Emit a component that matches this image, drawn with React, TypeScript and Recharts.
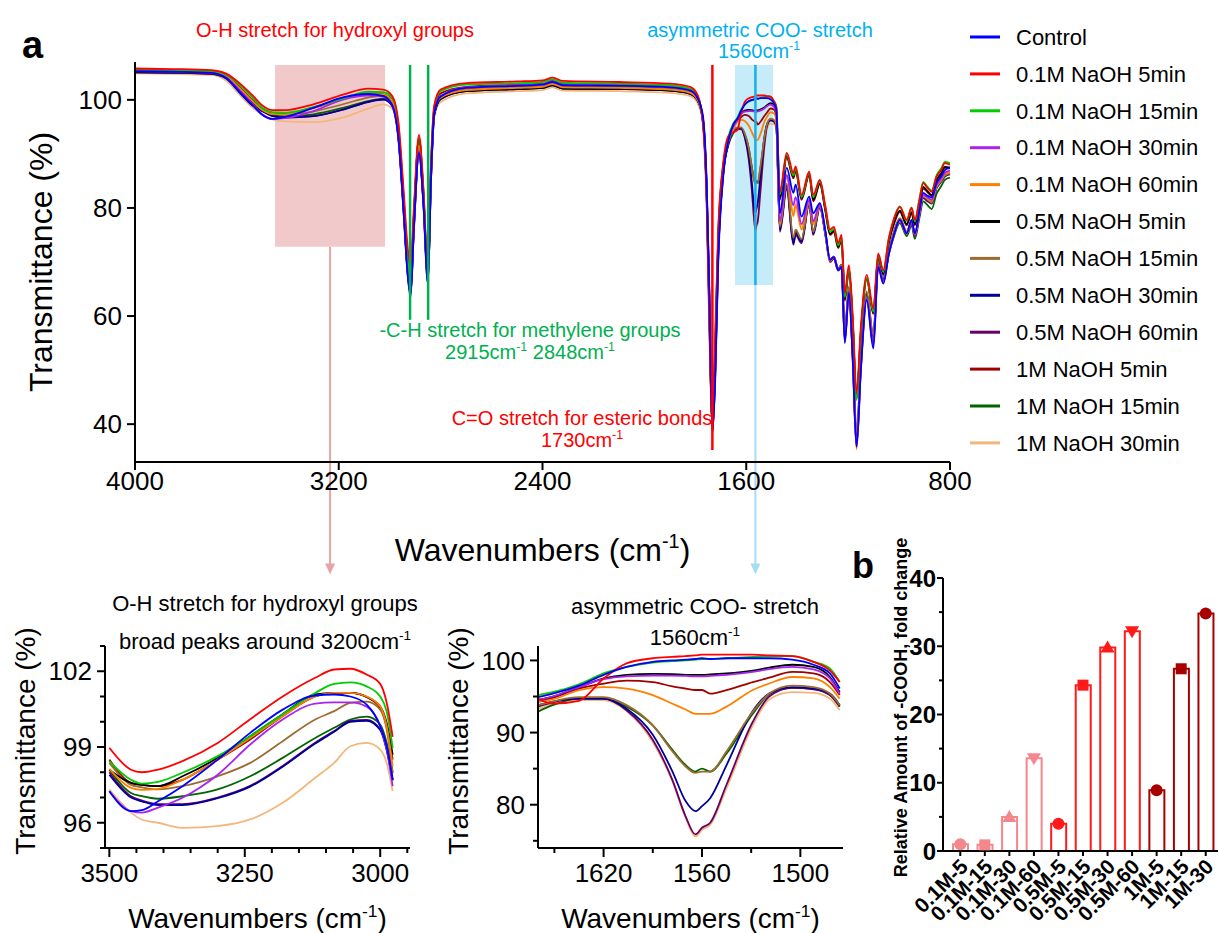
import React from "react";
import {
  LineChart,
  Line,
  XAxis,
  YAxis,
  ReferenceArea,
  ReferenceLine,
  ComposedChart,
  Bar,
  Scatter,
  Cell,
} from "recharts";

const FONT = "'Liberation Sans', Arial, Helvetica, sans-serif";

// ---------- panel a: full FTIR spectrum ----------
const WAVENUMBERS = [
  4000, 3850, 3700, 3640, 3590, 3540, 3500, 3460, 3410, 3300,
  3180, 3085, 3025, 2990, 2965, 2945, 2930, 2918, 2905, 2885,
  2868, 2850, 2838, 2825, 2800, 2700, 2500, 2400, 2360, 2320,
  2100, 1900, 1820, 1790, 1770, 1755, 1745, 1733, 1722, 1710,
  1690, 1670, 1651, 1635, 1620, 1606, 1590, 1578, 1570, 1564,
  1560, 1555, 1545, 1529, 1519, 1505, 1492, 1482, 1468, 1441,
  1415, 1406, 1383, 1353, 1337, 1311, 1290, 1271, 1256, 1239,
  1226, 1213, 1197, 1182, 1167, 1150, 1127, 1101, 1082, 1062,
  1040, 1020, 997, 970, 951, 938, 920, 905, 890, 872,
  853, 835, 820, 800,
];

const CONTROL = [
  105.3, 105.2, 105.0, 104.0, 101.5, 99.1, 97.25, 96.46, 96.85, 98.5,
  100.48, 101.08, 100.68, 99.0, 92.5, 79, 68, 63.5, 76, 90.2,
  81, 66, 85, 97.5, 100.6, 102.2, 102.6, 102.8, 103.3, 102.7,
  102.6, 102.3, 101.7, 100.2, 97, 84, 65, 38.5, 48, 70,
  86, 92.5, 95.4, 96.5, 98.0, 99.1, 99.8, 100.0, 100.1, 100.2,
  100.3, 100.2, 100.3, 100.3, 100.3, 100.1, 99.4, 98.2, 79.0, 87.4,
  82.8, 84.3, 78.4, 82.1, 79.0, 80.9, 76.0, 70.4, 70.9, 68.5,
  69.1, 55.0, 64.3, 52, 35.8, 50, 63.0, 54.0, 69.1, 66.0,
  71.5, 75.0, 77.8, 75.3, 77.8, 75.3, 79.5, 82.8, 82.3, 81.9,
  84.6, 85.8, 87.0, 87.4,
];
const NAOH01_5 = [
  105.8, 105.7, 105.5, 104.8, 103.1, 100.9, 98.97, 98.1, 98.1, 99.16,
  101.0, 102.07, 101.87, 100.7, 95.5, 83, 73, 69, 80, 93.5,
  84, 68.5, 88, 99, 101.9, 103.1, 103.4, 103.6, 104.1, 103.5,
  103.3, 103.0, 102.4, 100.8, 95.5, 80, 58, 39.5, 56, 76,
  88.5, 93.3, 94.0, 94.4, 97.5, 99.6, 100.3, 100.5, 100.6, 100.7,
  100.8, 100.8, 100.8, 100.8, 100.7, 100.6, 99.8, 98.6, 83.0, 90.2,
  86.5, 87.7, 82.4, 86.7, 82.4, 85.2, 80.5, 76.0, 76.5, 73.5,
  75.0, 64.3, 69.4, 60, 45.7, 58, 67.6, 61.4, 71.6, 68.5,
  74.5, 78.0, 80.2, 77.8, 80.0, 77.8, 81.5, 84.6, 83.8, 83.0,
  85.8, 87.0, 88.3, 88.0,
];
const NAOH01_15 = [
  105.6, 105.5, 105.3, 104.6, 102.8, 100.5, 98.44, 97.7, 97.62, 98.64,
  100.3, 101.5, 101.4, 100.4, 95.0, 82, 71.5, 67, 79, 93.0,
  83.5, 67.5, 87.5, 98.7, 101.6, 102.8, 103.1, 103.3, 103.8, 103.2,
  103.0, 102.7, 102.1, 100.6, 95.8, 81, 60, 39, 54, 75,
  88, 93.2, 95.6, 96.7, 98.2, 99.1, 99.7, 99.9, 100.0, 100.1,
  100.2, 100.2, 100.3, 100.5, 100.6, 100.6, 99.8, 98.9, 82.5, 89.8,
  86.0, 87.3, 82.0, 86.4, 82.0, 85.0, 80.2, 75.6, 76.1, 73.1,
  74.6, 63.5, 68.8, 59, 44.5, 57, 67.0, 60.8, 71.2, 68.2,
  74.3, 78.0, 80.3, 77.6, 80.1, 77.5, 81.6, 84.8, 84.0, 83.2,
  86.0, 87.3, 88.5, 88.3,
];
const NAOH01_30 = [
  105.3, 105.2, 105.0, 104.1, 101.8, 99.3, 97.25, 96.46, 96.6, 97.9,
  100.09, 100.77, 100.6, 98.9, 92.8, 79.5, 68.5, 64, 76.5, 90.5,
  81.5, 66.5, 85.5, 97.6, 100.7, 102.3, 102.7, 102.9, 103.4, 102.8,
  102.7, 102.4, 101.8, 100.3, 96.5, 83, 63, 38.8, 50, 72,
  87, 92.8, 95.0, 96.3, 97.4, 97.8, 97.9, 97.9, 97.85, 97.8,
  97.8, 97.85, 98.0, 98.4, 98.8, 99.1, 98.75, 97.5, 77.5, 86.0,
  80.5, 82.0, 77.0, 81.5, 77.5, 80.6, 75.8, 70.4, 70.9, 68.6,
  69.2, 55.5, 64.5, 52.5, 36.0, 50.5, 63.4, 54.8, 69.4, 66.4,
  71.7, 75.2, 77.8, 75.4, 77.6, 75.1, 79.2, 82.4, 82.0, 81.5,
  84.2, 85.4, 86.5, 86.9,
];
const NAOH01_60 = [
  105.4, 105.3, 105.1, 104.3, 102.2, 99.8, 98.13, 97.38, 97.34, 98.5,
  100.22, 101.14, 101.0, 99.8, 93.5, 80.5, 70, 65.5, 77.5, 91.5,
  82.5, 67, 86, 97.8, 100.4, 101.8, 102.2, 102.4, 102.9, 102.3,
  102.2, 101.9, 101.3, 99.9, 96.2, 82, 62, 38.8, 51, 73,
  87, 92.6, 94.6, 95.9, 96.3, 96.1, 95.2, 94.0, 93.2, 92.6,
  92.6, 92.6, 93.6, 95.9, 96.8, 97.7, 97.5, 96.3, 77.0, 86.0,
  78.5, 80.5, 76.0, 81.2, 77.0, 80.5, 75.6, 70.2, 70.8, 68.5,
  69.1, 55.2, 64.3, 52, 35.5, 50, 63.2, 54.5, 69.2, 66.2,
  71.5, 75.0, 77.6, 75.2, 77.5, 75.0, 79.0, 82.2, 81.8, 81.3,
  84.0, 85.2, 86.3, 86.6,
];
const NAOH05_5 = [
  105.2, 105.1, 104.9, 104.1, 101.9, 99.6, 98.1, 97.58, 97.45, 98.57,
  100.3, 101.14, 100.98, 99.95, 93.8, 81, 70.5, 66, 78.5, 92.8,
  83, 67.5, 86.5, 97.5, 100.2, 101.6, 102.0, 102.2, 102.7, 102.1,
  102.0, 101.7, 101.1, 99.8, 96, 82, 61, 39.2, 52, 74,
  87.5, 92.8, 95.0, 96.3, 97.5, 98.0, 98.15, 98.1, 98.0, 98.0,
  98.0, 98.05, 98.2, 98.6, 99.0, 99.4, 99.1, 97.7, 82.0, 89.6,
  85.8, 87.0, 81.8, 86.2, 81.5, 84.6, 79.8, 75.2, 75.8, 72.8,
  74.3, 63.2, 68.7, 59, 45.0, 57, 67.0, 60.6, 71.0, 67.8,
  73.8, 77.3, 79.5, 77.0, 79.2, 77.0, 80.8, 83.9, 83.2, 82.4,
  85.2, 86.4, 87.6, 87.5,
];
const NAOH05_15 = [
  105.2, 105.1, 104.9, 104.1, 101.8, 99.4, 98.37, 97.5, 97.32, 97.84,
  99.23, 100.42, 100.8, 99.69, 93.5, 80.5, 70, 65.5, 77.5, 91.5,
  82.5, 67, 86, 97.6, 100.5, 101.9, 102.3, 102.5, 103.0, 102.4,
  102.3, 102.0, 101.4, 100.0, 96.2, 82, 62, 39, 51, 73,
  87, 92.3, 94.3, 94.9, 94.9, 93.8, 91.0, 87.4, 85.3, 84.4,
  84.6, 84.6, 87.4, 92.9, 95.4, 96.5, 96.3, 95.4, 76.5, 84.5,
  74.5, 76.0, 74.2, 81.0, 75.6, 80.4, 75.5, 70.5, 71.0, 68.8,
  69.5, 57.0, 65.5, 54, 38.5, 52, 64.5, 56.5, 70.2, 67.2,
  72.2, 75.6, 78.1, 75.6, 77.6, 75.1, 79.1, 82.1, 81.6, 81.0,
  83.8, 85.0, 86.0, 86.4,
];
const NAOH05_30 = [
  105.1, 105.0, 104.8, 103.9, 101.4, 99.0, 97.9, 97.0, 96.7, 96.97,
  98.22, 99.6, 100.04, 98.88, 92.8, 79.5, 68.5, 64.5, 76.5, 90.5,
  81.5, 66.5, 85, 97.2, 100.1, 101.6, 102.0, 102.2, 102.7, 102.1,
  102.0, 101.7, 101.1, 99.8, 96.5, 83, 64, 38.6, 49, 71,
  86.5, 92.0, 94.3, 94.7, 94.7, 93.3, 89.7, 84.6, 80.5, 79.1,
  79.8, 80.9, 85.5, 93.0, 95.4, 96.3, 96.1, 95.4, 76.0, 84.0,
  73.5, 75.4, 73.8, 80.9, 75.3, 80.4, 75.5, 70.4, 71.0, 68.8,
  69.5, 56.5, 65.0, 53, 37.0, 51, 64.0, 56.0, 70.0, 67.0,
  72.0, 75.5, 78.0, 75.5, 77.5, 75.0, 79.0, 82.0, 81.5, 81.0,
  83.8, 85.0, 86.0, 86.4,
];
const NAOH05_60 = [
  105.1, 105.0, 104.8, 103.9, 101.5, 99.1, 98.0, 97.05, 96.74, 97.0,
  98.25, 99.63, 100.07, 98.92, 92.6, 79, 68, 64, 76, 90.3,
  81.2, 66.2, 85, 97.2, 100.2, 101.7, 102.1, 102.3, 102.8, 102.2,
  102.1, 101.8, 101.2, 99.9, 96.5, 83, 64, 38.4, 49, 71,
  86.5, 91.8, 94.2, 94.7, 94.7, 93.1, 89.0, 83.4, 78.4, 75.9,
  76.8, 77.5, 82.8, 91.5, 95.0, 96.2, 96.0, 95.2, 75.6, 83.5,
  73.2, 75.0, 73.5, 80.6, 75.0, 80.0, 75.2, 70.0, 70.6, 68.4,
  69.0, 55.5, 64.5, 52.5, 36.2, 50.5, 63.5, 55.2, 69.6, 66.6,
  71.7, 75.2, 77.7, 75.2, 77.3, 74.8, 78.8, 81.8, 81.3, 80.8,
  83.6, 84.8, 85.8, 86.2,
];
const NAOH1_5 = [
  105.5, 105.4, 105.2, 104.4, 102.4, 100.0, 98.5, 97.58, 97.45, 98.5,
  100.22, 101.14, 100.98, 99.82, 94.0, 81.5, 71, 66.5, 78.5, 92.8,
  83, 67.5, 87, 98.3, 101.2, 102.4, 102.8, 103.0, 103.5, 102.9,
  102.8, 102.5, 101.9, 100.5, 96, 81.5, 60, 39.3, 54, 75,
  88, 92.8, 94.8, 96.1, 96.8, 97.2, 97.0, 96.4, 96.1, 95.9,
  95.9, 95.4, 95.9, 97.0, 97.6, 98.4, 98.2, 97.0, 81.5, 89.3,
  85.5, 86.8, 81.5, 86.0, 81.2, 84.4, 79.6, 75.0, 75.6, 72.6,
  74.0, 62.8, 68.4, 58.5, 44.5, 56.5, 66.8, 60.4, 70.8, 67.6,
  73.6, 77.0, 79.3, 76.8, 79.0, 76.8, 80.6, 83.6, 83.0, 82.2,
  85.0, 86.2, 87.4, 87.3,
];
const NAOH1_15 = [
  105.3, 105.2, 105.0, 104.2, 102.0, 99.7, 98.1, 97.18, 96.95, 97.32,
  98.57, 99.76, 100.2, 99.16, 93.2, 80, 69.5, 65, 77, 91.2,
  82, 67, 86, 97.8, 100.6, 101.9, 102.3, 102.5, 103.0, 102.4,
  102.3, 102.0, 101.4, 100.0, 96.0, 82, 62, 38.9, 51, 73,
  87, 91.8, 93.8, 94.7, 94.7, 93.6, 91.0, 87.6, 85.5, 84.6,
  85.0, 84.6, 87.1, 92.6, 95.3, 96.2, 96.1, 95.2, 76.2, 84.2,
  74.0, 75.8, 74.0, 81.0, 75.5, 80.3, 75.3, 70.3, 70.8, 68.5,
  69.2, 56.8, 65.2, 53.5, 38.0, 51.5, 64.2, 56.2, 69.8, 66.6,
  71.5, 74.8, 77.2, 74.8, 76.8, 74.3, 78.2, 81.2, 80.6, 79.8,
  82.6, 84.0, 85.2, 85.6,
];
const NAOH1_30 = [
  104.9, 104.8, 104.6, 103.5, 101.0, 98.6, 97.32, 96.4, 96.0, 95.87,
  96.79, 98.37, 99.16, 98.37, 92.0, 79, 68.5, 64.5, 76, 90.5,
  81.5, 66.5, 85, 96.8, 99.6, 101.2, 101.6, 101.8, 102.3, 101.7,
  101.6, 101.3, 100.7, 99.3, 95.8, 82.5, 63, 38.7, 50, 72,
  86.5, 91.5, 93.9, 94.5, 94.5, 93.0, 88.7, 83.2, 78.2, 75.6,
  76.5, 77.2, 82.3, 91.0, 94.6, 95.6, 95.5, 94.7, 77.5, 86.2,
  79.0, 80.8, 76.5, 81.6, 77.5, 80.5, 75.6, 70.4, 71.0, 68.6,
  69.2, 55.6, 64.6, 52, 35.3, 50, 63.2, 54.4, 69.2, 66.2,
  71.4, 74.8, 77.4, 75.0, 77.2, 74.8, 78.8, 82.0, 81.6, 81.1,
  83.8, 85.0, 86.0, 86.3,
];

// ---------- zoom 1: O-H stretch ----------
const OH_WAVENUMBERS = [3500, 3460, 3440, 3410, 3365, 3300, 3240, 3180, 3120, 3085, 3055, 3025, 3000, 2988, 2977];
const OH_CONTROL = [97.25, 96.46, 96.5, 96.85, 97.45, 98.5, 99.56, 100.48, 101.04, 101.08, 101.0, 100.68, 99.82, 99.03, 97.7];
const OH_01_5 = [98.97, 98.1, 98.0, 98.1, 98.44, 99.16, 100.1, 101.0, 101.74, 102.07, 102.1, 101.87, 101.5, 100.75, 99.4];
const OH_01_15 = [98.44, 97.7, 97.55, 97.62, 97.98, 98.64, 99.43, 100.3, 101.14, 101.5, 101.56, 101.4, 101.0, 100.4, 98.97];
const OH_01_30 = [97.25, 96.46, 96.4, 96.6, 96.99, 97.9, 99.1, 100.09, 100.72, 100.77, 100.77, 100.6, 99.82, 98.9, 97.45];
const OH_01_60 = [98.13, 97.38, 97.3, 97.34, 97.7, 98.5, 99.36, 100.22, 101.0, 101.14, 101.14, 101.0, 100.6, 99.82, 98.24];
const OH_05_5 = [98.1, 97.58, 97.5, 97.45, 97.84, 98.57, 99.43, 100.3, 101.08, 101.14, 101.14, 100.98, 100.6, 99.95, 98.7];
const OH_05_15 = [98.37, 97.5, 97.4, 97.32, 97.45, 97.84, 98.37, 99.23, 100.09, 100.42, 100.75, 100.8, 100.48, 99.69, 97.98];
const OH_05_30 = [97.9, 97.0, 96.85, 96.7, 96.7, 96.97, 97.43, 98.22, 99.14, 99.6, 100.0, 100.04, 99.67, 98.88, 97.68];
const OH_05_60 = [98.0, 97.05, 96.88, 96.74, 96.74, 97.0, 97.46, 98.25, 99.17, 99.63, 100.03, 100.07, 99.7, 98.92, 97.72];
const OH_1_5 = [98.5, 97.58, 97.5, 97.45, 97.7, 98.5, 99.3, 100.22, 101.0, 101.14, 101.14, 100.98, 100.55, 99.82, 98.5];
const OH_1_15 = [98.1, 97.18, 97.05, 96.95, 97.05, 97.32, 97.84, 98.57, 99.36, 99.76, 100.09, 100.2, 99.89, 99.16, 97.98];
const OH_1_30 = [97.32, 96.4, 96.13, 96.0, 95.8, 95.87, 96.13, 96.79, 97.78, 98.37, 99.03, 99.16, 98.9, 98.37, 97.25];

// ---------- zoom 2: asymmetric COO- stretch ----------
const COO_WAVENUMBERS = [1660, 1651, 1635, 1620, 1606, 1590, 1578, 1570, 1564, 1560, 1555, 1545, 1529, 1519, 1505, 1492, 1482, 1476];
const COO_CONTROL = [94.9, 95.4, 96.5, 98.0, 99.1, 99.8, 100.0, 100.1, 100.2, 100.3, 100.2, 100.3, 100.3, 100.3, 100.1, 99.4, 98.2, 96.1];
const COO_01_5 = [94.7, 94.0, 94.4, 97.5, 99.6, 100.3, 100.5, 100.6, 100.7, 100.8, 100.8, 100.8, 100.8, 100.7, 100.6, 99.8, 98.6, 97.0];
const COO_01_15 = [95.2, 95.6, 96.7, 98.2, 99.1, 99.7, 99.9, 100.0, 100.1, 100.2, 100.2, 100.3, 100.5, 100.6, 100.6, 99.8, 98.9, 97.0];
const COO_01_30 = [94.5, 95.0, 96.3, 97.4, 97.8, 97.9, 97.9, 97.85, 97.8, 97.8, 97.85, 98.0, 98.4, 98.8, 99.1, 98.75, 97.5, 95.4];
const COO_01_60 = [94.25, 94.6, 95.9, 96.3, 96.1, 95.2, 94.0, 93.2, 92.6, 92.6, 92.6, 93.6, 95.9, 96.8, 97.7, 97.5, 96.3, 94.7];
const COO_05_5 = [94.5, 95.0, 96.3, 97.5, 98.0, 98.15, 98.1, 98.0, 98.0, 98.0, 98.05, 98.2, 98.6, 99.0, 99.4, 99.1, 97.7, 95.6];
const COO_05_15 = [93.8, 94.3, 94.9, 94.9, 93.8, 91.0, 87.4, 85.3, 84.4, 84.6, 84.6, 87.4, 92.9, 95.4, 96.5, 96.3, 95.4, 93.8];
const COO_05_30 = [93.8, 94.3, 94.7, 94.7, 93.3, 89.7, 84.6, 80.5, 79.1, 79.8, 80.9, 85.5, 93.0, 95.4, 96.3, 96.1, 95.4, 93.8];
const COO_05_60 = [93.6, 94.2, 94.7, 94.7, 93.1, 89.0, 83.4, 78.4, 75.9, 76.8, 77.5, 82.8, 91.5, 95.0, 96.2, 96.0, 95.2, 93.6];
const COO_1_5 = [94.25, 94.8, 96.1, 96.8, 97.2, 97.0, 96.4, 96.1, 95.9, 95.9, 95.4, 95.9, 97.0, 97.6, 98.4, 98.2, 97.0, 95.2];
const COO_1_15 = [92.9, 93.8, 94.7, 94.7, 93.6, 91.0, 87.6, 85.5, 84.6, 85.0, 84.6, 87.1, 92.6, 95.3, 96.2, 96.1, 95.2, 93.6];
const COO_1_30 = [93.3, 93.9, 94.5, 94.5, 93.0, 88.7, 83.2, 78.2, 75.6, 76.5, 77.2, 82.3, 91.0, 94.6, 95.6, 95.5, 94.7, 93.1];

// ---------- panel b ----------
const BAR_LABELS = ["0.1M-5", "0.1M-15", "0.1M-30", "0.1M-60", "0.5M-5", "0.5M-15", "0.5M-30", "0.5M-60", "1M-5", "1M-15", "1M-30"];
const BAR_VALUES = [1.0, 0.9, 5.0, 13.6, 4.0, 24.3, 29.8, 32.2, 8.9, 26.7, 34.8];
const BAR_COLORS = ["#f4878b", "#f4878b", "#f4878b", "#f4878b", "#ff1a1a", "#ff1a1a", "#ff1a1a", "#ff1a1a", "#a60000", "#a60000", "#a60000"];
const BAR_MARKERS = ["circle", "square", "up", "down", "circle", "square", "up", "down", "circle", "square", "circle"];

const SERIES = [
  { key: "control", name: "Control", color: "#0000ff", main: CONTROL, oh: OH_CONTROL, coo: COO_CONTROL },
  { key: "n01_5", name: "0.1M NaOH 5min", color: "#ff0000", main: NAOH01_5, oh: OH_01_5, coo: COO_01_5 },
  { key: "n01_15", name: "0.1M NaOH 15min", color: "#00cc00", main: NAOH01_15, oh: OH_01_15, coo: COO_01_15 },
  { key: "n01_30", name: "0.1M NaOH 30min", color: "#aa22ee", main: NAOH01_30, oh: OH_01_30, coo: COO_01_30 },
  { key: "n01_60", name: "0.1M NaOH 60min", color: "#ff8000", main: NAOH01_60, oh: OH_01_60, coo: COO_01_60 },
  { key: "n05_5", name: "0.5M NaOH 5min", color: "#000000", main: NAOH05_5, oh: OH_05_5, coo: COO_05_5 },
  { key: "n05_15", name: "0.5M NaOH 15min", color: "#9c6b30", main: NAOH05_15, oh: OH_05_15, coo: COO_05_15 },
  { key: "n05_30", name: "0.5M NaOH 30min", color: "#000099", main: NAOH05_30, oh: OH_05_30, coo: COO_05_30 },
  { key: "n05_60", name: "0.5M NaOH 60min", color: "#660066", main: NAOH05_60, oh: OH_05_60, coo: COO_05_60 },
  { key: "n1_5", name: "1M NaOH 5min", color: "#a00000", main: NAOH1_5, oh: OH_1_5, coo: COO_1_5 },
  { key: "n1_15", name: "1M NaOH 15min", color: "#006400", main: NAOH1_15, oh: OH_1_15, coo: COO_1_15 },
  { key: "n1_30", name: "1M NaOH 30min", color: "#f2b77a", main: NAOH1_30, oh: OH_1_30, coo: COO_1_30 },
];

const buildRows = (xs: number[], pick: (s: any) => number[]) =>
  xs.map((w, i) => {
    const row: Record<string, number> = { w };
    SERIES.forEach((s) => {
      row[s.key] = pick(s)[i];
    });
    return row;
  });

const mainData = buildRows(WAVENUMBERS, (s) => s.main);
const ohData = buildRows(OH_WAVENUMBERS, (s) => s.oh);
const cooData = buildRows(COO_WAVENUMBERS, (s) => s.coo);
const barData = BAR_LABELS.map((name, i) => ({
  name,
  value: BAR_VALUES[i],
  color: BAR_COLORS[i],
  marker: BAR_MARKERS[i],
}));

// draw control last so it sits on top
const drawOrder = [...SERIES].reverse();

// text with superscript pieces: ["normal", "sup", "normal", ...]
const supText = (parts: string[], fs: number) =>
  parts.map((p, i) =>
    i % 2 === 0 ? (
      <tspan key={i} dy={i === 0 ? 0 : fs * 0.4} fontSize={fs} style={{ whiteSpace: "pre" }}>
        {p}
      </tspan>
    ) : (
      <tspan key={i} dy={-fs * 0.4} fontSize={fs * 0.62}>
        {p}
      </tspan>
    )
  );

const axisTitleX = (dy: number, fs: number) => (p: any) => {
  const vb = p.viewBox;
  return (
    <text x={vb.x + vb.width / 2} y={vb.y + dy} textAnchor="middle" fontFamily={FONT} fill="#000">
      {supText(["Wavenumbers (cm", "-1", ")"], fs)}
    </text>
  );
};

const axisTitleY = (text: string, dx: number, dyc: number, fs: number, bold = false) => (p: any) => {
  const vb = p.viewBox;
  const x = vb.x + dx;
  const y = vb.y + vb.height / 2 + dyc;
  return (
    <text
      x={x}
      y={y}
      transform={`rotate(-90, ${x}, ${y})`}
      textAnchor="middle"
      fontSize={fs}
      fontWeight={bold ? "bold" : "normal"}
      fontFamily={FONT}
      fill="#000"
    >
      {text}
    </text>
  );
};

const MinorXTick = (props: any) => {
  const { x, y, payload, labeled } = props;
  const major = labeled.includes(payload.value);
  return (
    <g>
      <line x1={x} y1={y} x2={x} y2={y + (major ? 9 : 5)} stroke="#000" strokeWidth={2} />
      {major && (
        <text x={x} y={y + 16} dy="0.71em" textAnchor="middle" fontSize={26} fontFamily={FONT} fill="#000">
          {payload.value}
        </text>
      )}
    </g>
  );
};

const MinorYTick = (props: any) => {
  const { x, y, payload, labeled, fs = 26, gap = 13, bold = false, major = 8, minor = 5 } = props;
  const isMajor = labeled.includes(payload.value);
  return (
    <g>
      <line x1={x} y1={y} x2={x - (isMajor ? major : minor)} y2={y} stroke="#000" strokeWidth={2} />
      {isMajor && (
        <text
          x={x - gap}
          y={y}
          dy="0.355em"
          textAnchor="end"
          fontSize={fs}
          fontWeight={bold ? "bold" : "normal"}
          fontFamily={FONT}
          fill="#000"
        >
          {payload.value}
        </text>
      )}
    </g>
  );
};

const BarXTick = (props: any) => {
  const { x, y, payload } = props;
  const tx = x + 9;
  const ty = y + 17;
  return (
    <g>
      <line x1={x} y1={y} x2={x} y2={y + 5} stroke="#000" strokeWidth={2} />
      <text
        x={tx}
        y={ty}
        transform={`rotate(-45, ${tx}, ${ty})`}
        textAnchor="end"
        fontSize={21}
        fontWeight="bold"
        fontFamily={FONT}
        fill="#000"
      >
        {payload.value}
      </text>
    </g>
  );
};

const renderMarker = (props: any) => {
  const { cx, cy, payload } = props;
  const c = payload.color;
  if (payload.marker === "square") return <rect x={cx - 5.5} y={cy - 5.5} width={11} height={11} fill={c} />;
  if (payload.marker === "up")
    return <polygon points={`${cx},${cy - 7} ${cx - 7},${cy + 5} ${cx + 7},${cy + 5}`} fill={c} />;
  if (payload.marker === "down")
    return <polygon points={`${cx},${cy + 7} ${cx - 7},${cy - 5} ${cx + 7},${cy - 5}`} fill={c} />;
  return <circle cx={cx} cy={cy} r={6} fill={c} />;
};

const arrowShape = (color: string) => (p: any) => {
  const { x1, y1, x2, y2 } = p;
  return (
    <g>
      <line x1={x1} y1={y1} x2={x2} y2={y2 - 8} stroke={color} strokeWidth={2} />
      <polygon points={`${x2 - 5},${y2 - 11} ${x2 + 5},${y2 - 11} ${x2},${y2}`} fill={color} />
    </g>
  );
};

const axisStyle = { stroke: "#000", strokeWidth: 2 };
const tickFont = { fontSize: 26, fill: "#000", fontFamily: FONT };

export default function App() {
  return (
    <div style={{ position: "absolute", left: 0, top: 0, width: 1218, height: 933, background: "#fff", fontFamily: FONT }}>
      {/* panel a: full spectrum */}
      <div style={{ position: "absolute", left: 0, top: 0 }}>
        <LineChart width={1000} height={600} data={mainData} margin={{ top: 62, right: 50, bottom: 0, left: 0 }}>
          <XAxis
            type="number"
            dataKey="w"
            domain={[800, 4000]}
            reversed
            ticks={[4000, 3200, 2400, 1600, 800]}
            interval={0}
            height={138}
            tick={tickFont}
            tickSize={8}
            tickMargin={2}
            axisLine={axisStyle}
            tickLine={axisStyle}
            label={axisTitleX(99, 32)}
          />
          <YAxis
            type="number"
            domain={[33, 107]}
            ticks={[40, 60, 80, 100]}
            interval={0}
            width={135}
            tick={tickFont}
            tickSize={8}
            tickMargin={5}
            axisLine={axisStyle}
            tickLine={axisStyle}
            label={axisTitleY("Transmittance (%)", 52, 0, 32)}
          />
          <ReferenceArea x1={3450} x2={3018} y1={72.8} y2={106.45} fill="#f2c9cb" fillOpacity={1} stroke="none" />
          <ReferenceArea x1={1644} x2={1495} y1={65.75} y2={106.45} fill="#c6ebf9" fillOpacity={1} stroke="none" />
          {drawOrder.map((s) => (
            <Line
              key={s.key}
              type="monotone"
              dataKey={s.key}
              stroke={s.color}
              strokeWidth={1.8}
              dot={false}
              activeDot={false}
              isAnimationActive={false}
            />
          ))}
          <ReferenceLine segment={[{ x: 2920, y: 106.45 }, { x: 2920, y: 59.3 }]} stroke="#00b050" strokeWidth={2.5} />
          <ReferenceLine segment={[{ x: 2849, y: 106.45 }, { x: 2849, y: 59.3 }]} stroke="#00b050" strokeWidth={2.5} />
          <ReferenceLine segment={[{ x: 1733, y: 106.45 }, { x: 1733, y: 35.2 }]} stroke="#ff0000" strokeWidth={2.5} />
          <ReferenceLine segment={[{ x: 1564, y: 106.45 }, { x: 1564, y: 65.75 }]} stroke="#1aaee6" strokeWidth={2.5} />
          <ReferenceLine
            segment={[{ x: 1564, y: 65.75 }, { x: 1564, y: 12.2 }]}
            ifOverflow="visible"
            shape={arrowShape("#a8dcf4")}
          />
          <ReferenceLine
            segment={[{ x: 3234, y: 72.8 }, { x: 3234, y: 12.2 }]}
            ifOverflow="visible"
            shape={arrowShape("#e8a3a8")}
          />
        </LineChart>
      </div>

      {/* zoom: O-H stretch */}
      <div style={{ position: "absolute", left: 0, top: 600 }}>
        <LineChart width={420} height={333} data={ohData} margin={{ top: 46, right: 10, bottom: 0, left: 0 }}>
          <XAxis
            type="number"
            dataKey="w"
            domain={[2945, 3508]}
            reversed
            ticks={[3500, 3450, 3400, 3350, 3300, 3250, 3200, 3150, 3100, 3050, 3000, 2950]}
            interval={0}
            height={85}
            tick={<MinorXTick labeled={[3500, 3250, 3000]} />}
            tickSize={0}
            tickMargin={0}
            tickLine={false}
            axisLine={axisStyle}
            label={axisTitleX(80, 28)}
          />
          <YAxis
            type="number"
            domain={[95, 103]}
            ticks={[95, 96, 97, 98, 99, 100, 101, 102, 103]}
            interval={0}
            width={105}
            tick={<MinorYTick labeled={[96, 99, 102]} />}
            tickSize={0}
            tickMargin={0}
            tickLine={false}
            axisLine={axisStyle}
            label={axisTitleY("Transmittance (%)", 35, -6, 28)}
          />
          {drawOrder.map((s) => (
            <Line
              key={s.key}
              type="monotone"
              dataKey={s.key}
              stroke={s.color}
              strokeWidth={1.8}
              dot={false}
              activeDot={false}
              isAnimationActive={false}
            />
          ))}
        </LineChart>
      </div>

      {/* zoom: COO- stretch */}
      <div style={{ position: "absolute", left: 420, top: 600 }}>
        <LineChart width={425} height={333} data={cooData} margin={{ top: 46, right: 2, bottom: 0, left: 0 }}>
          <XAxis
            type="number"
            dataKey="w"
            domain={[1474, 1660]}
            reversed
            ticks={[1650, 1620, 1590, 1560, 1530, 1500]}
            interval={0}
            height={85}
            tick={<MinorXTick labeled={[1620, 1560, 1500]} />}
            tickSize={0}
            tickMargin={0}
            tickLine={false}
            axisLine={axisStyle}
            label={axisTitleX(80, 28)}
          />
          <YAxis
            type="number"
            domain={[74, 102]}
            ticks={[75, 80, 85, 90, 95, 100]}
            interval={0}
            width={118}
            tick={<MinorYTick labeled={[80, 90, 100]} />}
            tickSize={0}
            tickMargin={0}
            tickLine={false}
            axisLine={axisStyle}
            label={axisTitleY("Transmittance (%)", 48, -6, 28)}
          />
          {drawOrder.map((s) => (
            <Line
              key={s.key}
              type="monotone"
              dataKey={s.key}
              stroke={s.color}
              strokeWidth={1.8}
              dot={false}
              activeDot={false}
              isAnimationActive={false}
            />
          ))}
        </LineChart>
      </div>

      {/* panel b */}
      <div style={{ position: "absolute", left: 840, top: 500 }}>
        <ComposedChart width={378} height={433} data={barData} margin={{ top: 78, right: 0, bottom: 0, left: 0 }}>
          <XAxis
            dataKey="name"
            interval={0}
            height={82}
            padding={{ left: 5, right: 0 }}
            tick={<BarXTick />}
            tickSize={0}
            tickMargin={0}
            tickLine={false}
            axisLine={axisStyle}
          />
          <YAxis
            type="number"
            domain={[0, 40]}
            ticks={[0, 5, 10, 15, 20, 25, 30, 35, 40]}
            interval={0}
            width={103}
            tick={<MinorYTick labeled={[0, 10, 20, 30, 40]} fs={24} gap={7} bold major={6} minor={4} />}
            tickSize={0}
            tickMargin={0}
            tickLine={false}
            axisLine={axisStyle}
            label={axisTitleY("Relative Amount of -COOH, fold change", 67, -7, 18, true)}
          />
          <Bar dataKey="value" barSize={15} fill="#ffffff" strokeWidth={2} isAnimationActive={false}>
            {barData.map((d, i) => (
              <Cell key={i} stroke={d.color} fill="#ffffff" />
            ))}
          </Bar>
          <Scatter dataKey="value" shape={renderMarker} isAnimationActive={false} />
        </ComposedChart>
      </div>

      {/* annotations, panel letters, sub-titles and legend */}
      <svg
        width={1218}
        height={933}
        style={{ position: "absolute", left: 0, top: 0, pointerEvents: "none" }}
        fontFamily={FONT}
      >
        <text x={22} y={58} fontSize={38} fontWeight="bold">a</text>
        <text x={852} y={578} fontSize={36} fontWeight="bold">b</text>

        <text x={335} y={37} fontSize={20} fill="#ff0000" textAnchor="middle">O-H stretch for hydroxyl groups</text>
        <text x={760} y={37} fontSize={20} fill="#00b0f0" textAnchor="middle">asymmetric COO- stretch</text>
        <text x={759} y={58} fill="#00b0f0" textAnchor="middle">{supText(["1560cm", "-1"], 20)}</text>
        <text x={530} y={337} fontSize={20} fill="#00b050" textAnchor="middle">-C-H stretch for methylene groups</text>
        <text x={530} y={359} fill="#00b050" textAnchor="middle">{supText(["2915cm", "-1", " 2848cm", "-1"], 20)}</text>
        <text x={582} y={425} fontSize={20} fill="#ff0000" textAnchor="middle">C=O stretch for esteric bonds</text>
        <text x={582} y={447} fill="#ff0000" textAnchor="middle">{supText(["1730cm", "-1"], 20)}</text>

        <text x={265} y={611} fontSize={22} textAnchor="middle">O-H stretch for hydroxyl groups</text>
        <text x={265} y={649} textAnchor="middle">{supText(["broad peaks around 3200cm", "-1"], 22)}</text>
        <text x={695} y={614} fontSize={22} textAnchor="middle">asymmetric COO- stretch</text>
        <text x={695} y={645} textAnchor="middle">{supText(["1560cm", "-1"], 22)}</text>

        {SERIES.map((s, i) => {
          const cy = 37 + i * 36.9;
          return (
            <g key={s.key}>
              <line x1={970} x2={1000} y1={cy} y2={cy} stroke={s.color} strokeWidth={3} />
              <text x={1016} y={cy} dy="0.35em" fontSize={22} fill="#000">
                {s.name}
              </text>
            </g>
          );
        })}
      </svg>
    </div>
  );
}
